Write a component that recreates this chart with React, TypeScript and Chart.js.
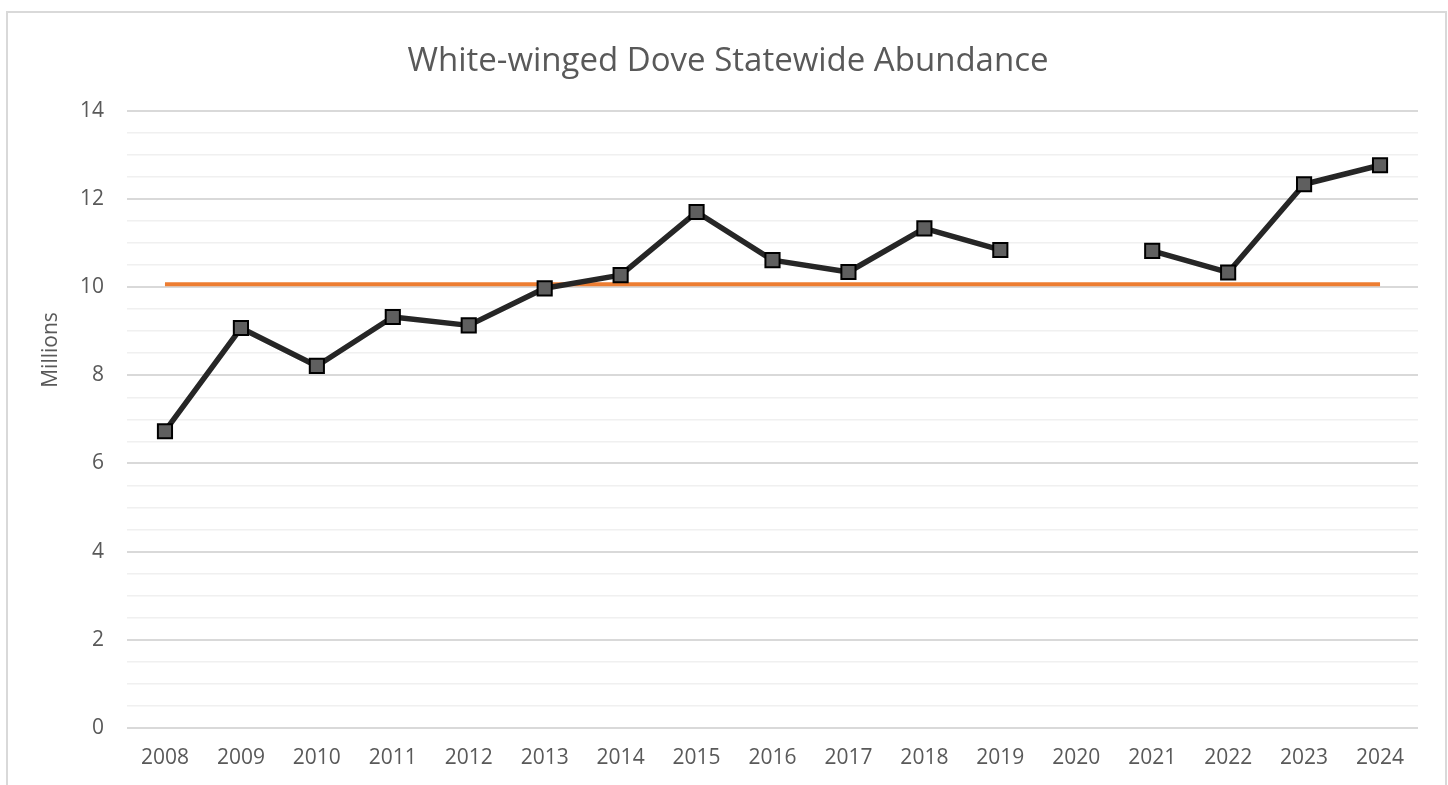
import React, { useEffect, useRef } from "react";
import { Chart, registerables } from "chart.js";

Chart.register(...registerables);

const years = ["2008", "2009", "2010", "2011", "2012", "2013", "2014", "2015", "2016", "2017", "2018", "2019", "2020", "2021", "2022", "2023", "2024"];
const abundance: (number | null)[] = [6.73, 9.07, 8.21, 9.32, 9.13, 9.97, 10.27, 11.70, 10.61, 10.34, 11.33, 10.84, null, 10.82, 10.33, 12.33, 12.76];
const longTermMean = [10.06, 10.06, 10.06, 10.06, 10.06, 10.06, 10.06, 10.06, 10.06, 10.06, 10.06, 10.06, 10.06, 10.06, 10.06, 10.06, 10.06];
const titleText = "White-winged Dove Statewide Abundance";
const yAxisTitle = "Millions";

const FONT = "'Open Sans', sans-serif";
const TEXT = "#595959";

const frame = {
  id: "frame",
  beforeDraw(chart: any) {
    const ctx = chart.ctx;
    ctx.save();
    ctx.fillStyle = "#ffffff";
    ctx.fillRect(0, 0, chart.width, chart.height);
    ctx.strokeStyle = "#d9d9d9";
    ctx.lineWidth = 2;
    ctx.strokeRect(7, 12, 1439, 820);
    ctx.restore();
  },
  afterDraw(chart: any) {
    const ctx = chart.ctx;
    ctx.save();
    ctx.translate(51, 350);
    ctx.rotate(-Math.PI / 2);
    ctx.fillStyle = TEXT;
    ctx.font = `21px ${FONT}`;
    ctx.textAlign = "center";
    ctx.textBaseline = "middle";
    ctx.fillText(yAxisTitle, 0, 0);
    ctx.restore();
  },
};

export default function App() {
  const ref = useRef<HTMLCanvasElement | null>(null);
  useEffect(() => {
    if (!ref.current) return;
    const chart = new Chart(ref.current, {
      type: "line",
      data: {
        labels: years,
        datasets: [
          {
            label: "Abundance",
            data: abundance,
            borderColor: "#262626",
            borderWidth: 5.5,
            borderJoinStyle: "round",
            borderCapStyle: "round",
            pointStyle: "rect",
            pointRadius: 10,
            pointBackgroundColor: "#5f5f5f",
            pointBorderColor: "#000000",
            pointBorderWidth: 2,
            spanGaps: false,
            tension: 0,
          },
          {
            label: "Mean",
            data: longTermMean,
            borderColor: "#ed7d31",
            borderWidth: 4,
            pointRadius: 0,
            tension: 0,
          },
        ],
      },
      options: {
        responsive: false,
        animation: false,
        events: [],
        layout: { padding: { left: 38, right: 30, top: 0, bottom: 0 } },
        plugins: {
          legend: { display: false },
          tooltip: { enabled: false },
          title: {
            display: true,
            text: titleText,
            color: TEXT,
            font: { family: FONT, size: 33, weight: "normal" },
            padding: { top: 42, bottom: 29 },
          },
        },
        scales: {
          x: {
            offset: true,
            grid: { display: false, drawTicks: false },
            border: { display: false },
            ticks: {
              color: TEXT,
              font: { family: FONT, size: 21 },
              padding: 17,
              maxRotation: 0,
              autoSkip: false,
            },
            afterFit: (scale: any) => {
              scale.height = 57;
            },
          },
          y: {
            min: 0,
            max: 14,
            border: { display: false },
            grid: {
              drawTicks: false,
              color: (c: any) => (c.tick && c.tick.value % 2 === 0 ? "#d9d9d9" : "#f0f0f0"),
              lineWidth: (c: any) => (c.tick && c.tick.value % 2 === 0 ? 2 : 1.5),
            },
            ticks: {
              stepSize: 0.5,
              maxTicksLimit: 100,
              autoSkip: false,
              color: TEXT,
              font: { family: FONT, size: 21 },
              padding: 23,
              callback: (v: any) => (Number(v) % 2 === 0 ? String(v) : ""),
            },
            afterFit: (scale: any) => {
              scale.width = 89;
            },
          },
        },
      },
      plugins: [frame],
    });
    return () => chart.destroy();
  }, []);
  return (
    <div style={{ position: "fixed", left: 0, top: 0, width: 1448, height: 785 }}>
      <canvas ref={ref} width={1448} height={785} style={{ display: "block" }} />
    </div>
  );
}
